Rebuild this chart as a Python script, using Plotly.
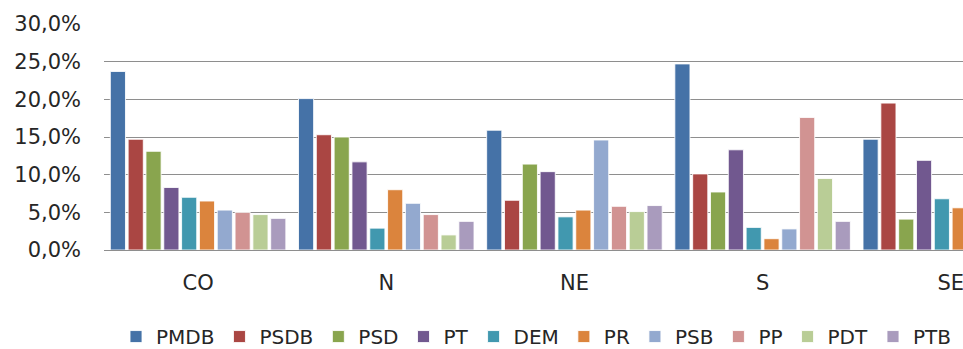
import plotly.graph_objects as go

# Regions (x categories) and party shares (%)
regions = ["CO", "N", "NE", "S", "SE"]

parties = ["PMDB", "PSDB", "PSD", "PT", "DEM", "PR", "PSB", "PP", "PDT", "PTB"]

pmdb = [23.7, 20.1, 15.9, 24.7, 14.7]
psdb = [14.7, 15.3, 6.6, 10.1, 19.5]
psd = [13.1, 15.0, 11.4, 7.7, 4.1]
pt = [8.3, 11.7, 10.4, 13.3, 11.9]
dem = [7.0, 2.9, 4.4, 3.0, 6.8]
pr = [6.5, 8.0, 5.3, 1.5, 5.6]
psb = [5.3, 6.2, 14.6, 2.8, 5.0]
pp = [5.0, 4.7, 5.8, 17.6, 4.5]
pdt = [4.7, 2.0, 5.1, 9.5, 3.5]
ptb = [4.2, 3.8, 5.9, 3.8, 4.0]

series = [pmdb, psdb, psd, pt, dem, pr, psb, pp, pdt, ptb]

colors = ["#4572A7", "#AA4643", "#89A54E", "#71588F", "#4198AF",
          "#DB843D", "#93A9CF", "#D19392", "#B9CD96", "#A99BBD"]

y_ticks = [0, 5, 10, 15, 20, 25, 30]
y_tick_text = ["0,0%", "5,0%", "10,0%", "15,0%", "20,0%", "25,0%", "30,0%"]

FONT = "DejaVu Sans"
TEXT_COLOR = "#262626"

fig = go.Figure()
for name, values, color in zip(parties, series, colors):
    fig.add_trace(go.Bar(
        name=name,
        x=regions,
        y=values,
        marker=dict(color=color, line=dict(color="rgba(255,255,255,0.85)", width=1)),
    ))

fig.update_layout(
    width=963,
    height=349,
    margin=dict(l=104, r=0, t=24, b=99, autoexpand=False),
    paper_bgcolor="white",
    plot_bgcolor="white",
    barmode="group",
    bargap=0.053,
    bargroupgap=0.15,
    font=dict(family=FONT, size=21, color=TEXT_COLOR),
    showlegend=True,
    legend=dict(
        orientation="h",
        x=0.014,
        xanchor="left",
        y=-0.383,
        yanchor="middle",
        font=dict(family=FONT, size=20, color=TEXT_COLOR),
        itemclick=False,
        tracegroupgap=0,
    ),
    xaxis=dict(
        type="category",
        range=[-0.5, 4.065],
        showgrid=False,
        showline=False,
        ticks="",
        ticklabelstandoff=18,
        tickfont=dict(family=FONT, size=21, color=TEXT_COLOR),
        fixedrange=True,
    ),
    yaxis=dict(
        range=[0, 30],
        tickvals=y_ticks,
        ticktext=y_tick_text,
        showgrid=True,
        gridcolor="#8e8e8e",
        gridwidth=1.4,
        zeroline=True,
        zerolinecolor="#8e8e8e",
        zerolinewidth=1.4,
        showline=False,
        ticks="",
        ticklabelstandoff=22,
        tickfont=dict(family=FONT, size=21, color=TEXT_COLOR),
        fixedrange=True,
    ),
)

fig.write_html("out.html")
